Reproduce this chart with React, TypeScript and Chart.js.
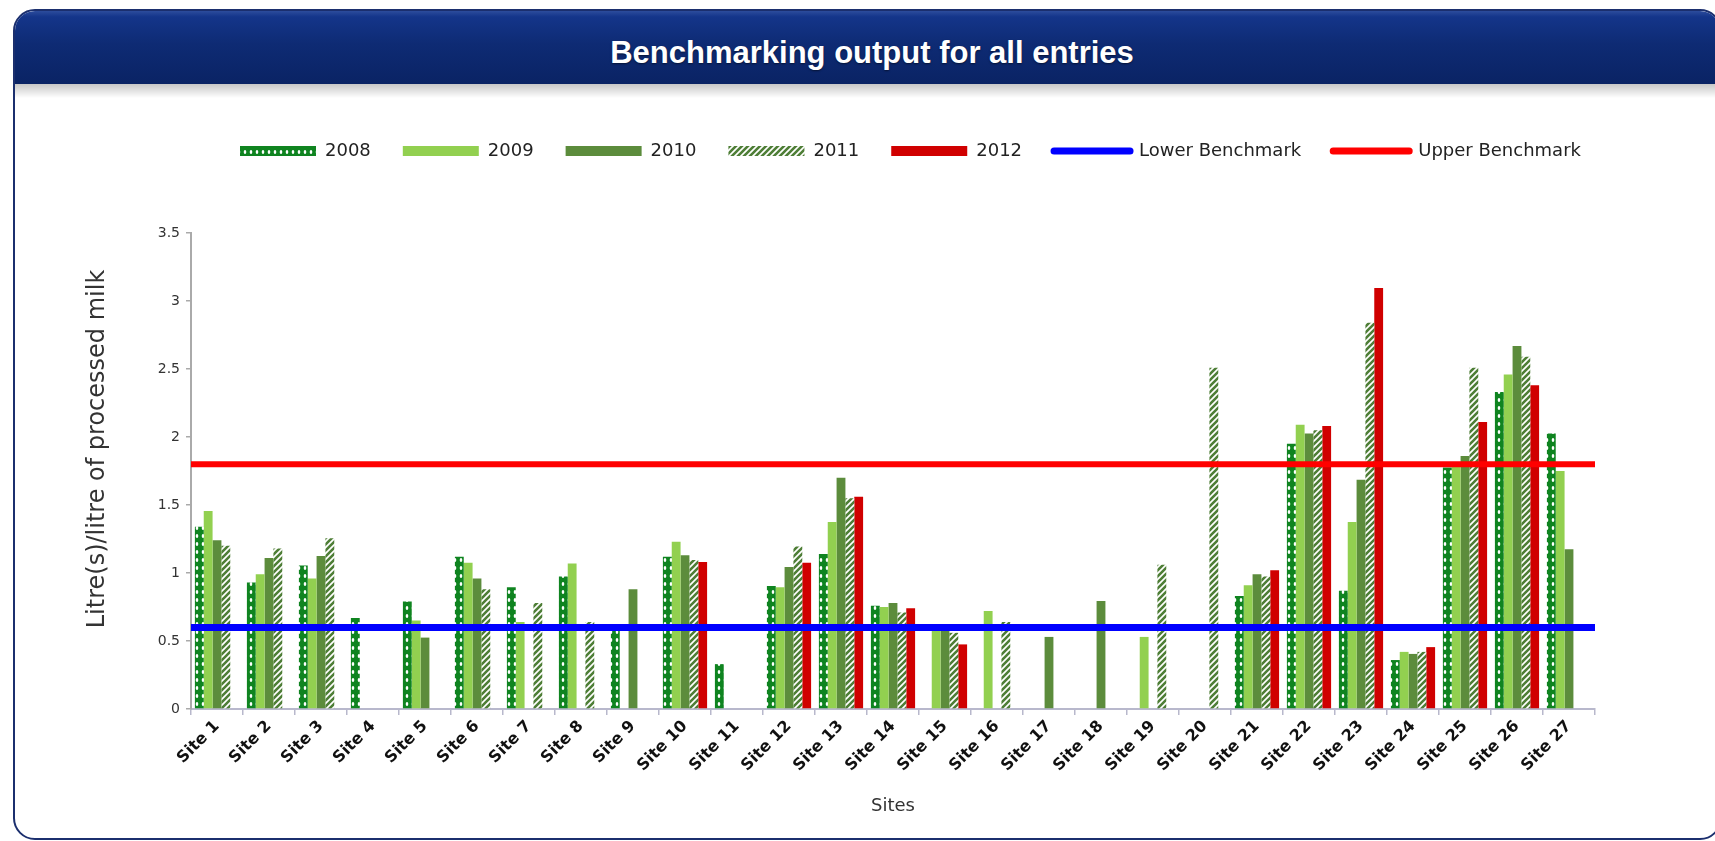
import React, { useEffect, useRef } from 'react';
import { Chart, registerables } from 'chart.js';

Chart.register(...registerables);

// ---------- data ----------
const SITES = [
  'Site 1', 'Site 2', 'Site 3', 'Site 4', 'Site 5', 'Site 6', 'Site 7', 'Site 8', 'Site 9',
  'Site 10', 'Site 11', 'Site 12', 'Site 13', 'Site 14', 'Site 15', 'Site 16', 'Site 17', 'Site 18',
  'Site 19', 'Site 20', 'Site 21', 'Site 22', 'Site 23', 'Site 24', 'Site 25', 'Site 26', 'Site 27',
];

const Y2008 = [1.34, 0.93, 1.055, 0.67, 0.79, 1.12, 0.895, 0.975, 0.59, 1.12, 0.33, 0.905, 1.14, 0.76, null, null, null, null, null, null, 0.83, 1.95, 0.87, 0.36, 1.775, 2.33, 2.025];
const Y2009 = [1.455, 0.99, 0.96, null, 0.65, 1.075, 0.64, 1.07, null, 1.23, null, 0.895, 1.375, 0.75, 0.575, 0.72, null, null, 0.53, null, 0.91, 2.09, 1.375, 0.42, 1.78, 2.46, 1.75];
const Y2010 = [1.24, 1.11, 1.125, null, 0.525, 0.96, null, null, 0.88, 1.13, null, 1.045, 1.7, 0.78, 0.575, null, 0.53, 0.795, null, null, 0.99, 2.025, 1.685, 0.405, 1.86, 2.67, 1.175];
const Y2011 = [1.2, 1.18, 1.255, null, null, 0.88, 0.78, 0.64, null, 1.095, null, 1.195, 1.55, 0.71, 0.56, 0.64, null, null, 1.06, 2.51, 0.975, 2.05, 2.84, 0.42, 2.51, 2.59, null];
const Y2012 = [null, null, null, null, null, null, null, null, null, 1.08, null, 1.075, 1.56, 0.74, 0.475, null, null, null, null, null, 1.02, 2.08, 3.095, 0.455, 2.11, 2.38, null];

const LOWER_BENCHMARK = 0.6;
const UPPER_BENCHMARK = 1.8;

const SERIES_LABELS = ['2008', '2009', '2010', '2011', '2012', 'Lower Benchmark', 'Upper Benchmark'];
const TITLE = 'Benchmarking output for all entries';
const Y_TITLE = 'Litre(s)/litre of processed milk';
const X_TITLE = 'Sites';

// ---------- layout constants (page px) ----------
const CANVAS_LEFT = 20;
const CANVAS_TOP = 100;
const CANVAS_W = 1690;
const CANVAS_H = 724;
const LEGEND_FIRST_X = 240;
const LEGEND_TOP = 110;
const LEGEND_PAD = 32;
const Y_TITLE_X = 98;
const Y_TITLE_Y = 449;

function dotPattern(): CanvasPattern | string {
  const c = document.createElement('canvas');
  c.width = 6;
  c.height = 8;
  const x = c.getContext('2d');
  if (!x) return '#0f8420';
  x.fillStyle = '#0f8420';
  x.fillRect(0, 0, 6, 8);
  x.fillStyle = '#ffffff';
  x.beginPath();
  x.ellipse(3, 4, 1.3, 1.9, 0, 0, Math.PI * 2);
  x.fill();
  return x.createPattern(c, 'repeat') || '#0f8420';
}

function hatchPattern(): CanvasPattern | string {
  const s = 6;
  const c = document.createElement('canvas');
  c.width = s;
  c.height = s;
  const x = c.getContext('2d');
  if (!x) return '#4e7e36';
  x.fillStyle = '#ffffff';
  x.fillRect(0, 0, s, s);
  x.strokeStyle = '#4e7e36';
  x.lineWidth = 2.6;
  x.beginPath();
  x.moveTo(-1, s + 1);
  x.lineTo(s + 1, -1);
  x.moveTo(-1, 1);
  x.lineTo(1, -1);
  x.moveTo(s - 1, s + 1);
  x.lineTo(s + 1, s - 1);
  x.stroke();
  return x.createPattern(c, 'repeat') || '#4e7e36';
}

const legendPlace = {
  id: 'legendPlace',
  beforeDraw(chart: any) {
    const lg = chart.legend;
    if (!lg) return;
    const w = lg.width;
    const h = lg.height;
    lg.left = LEGEND_FIRST_X - CANVAS_LEFT - LEGEND_PAD;
    lg.right = lg.left + w;
    lg.top = LEGEND_TOP - CANVAS_TOP;
    lg.bottom = lg.top + h;
  },
};

const yTitlePlugin = {
  id: 'yTitlePlugin',
  afterDraw(chart: any) {
    const ctx = chart.ctx;
    ctx.save();
    ctx.translate(Y_TITLE_X - CANVAS_LEFT, Y_TITLE_Y - CANVAS_TOP);
    ctx.rotate(-Math.PI / 2);
    ctx.textAlign = 'center';
    ctx.textBaseline = 'middle';
    ctx.fillStyle = '#333333';
    ctx.font = '24px "DejaVu Sans"';
    ctx.fillText(Y_TITLE, 0, 0);
    ctx.restore();
  },
};

function BenchChart() {
  const ref = useRef<HTMLCanvasElement | null>(null);

  useEffect(() => {
    if (!ref.current) return;
    const dots = dotPattern();
    const hatch = hatchPattern();
    const barCommon = { borderWidth: 0, categoryPercentage: 0.85, barPercentage: 1.0 };
    // benchmark lines span the whole category axis (from its left edge to its right edge)
    const xStart = -0.5;
    const xEnd = SITES.length - 0.5;
    const lineCommon = {
      type: 'line' as const,
      parsing: false,
      pointRadius: 0,
      fill: false,
      order: -1,
      borderCapStyle: 'butt' as const,
    };
    const tickFont = { family: 'DejaVu Sans', size: 16, weight: 'bold' as const };

    const chart = new Chart(ref.current, {
      type: 'bar',
      data: {
        labels: SITES,
        datasets: [
          { ...barCommon, label: SERIES_LABELS[0], data: Y2008, backgroundColor: dots },
          { ...barCommon, label: SERIES_LABELS[1], data: Y2009, backgroundColor: '#92d050' },
          { ...barCommon, label: SERIES_LABELS[2], data: Y2010, backgroundColor: '#5c8c3c' },
          { ...barCommon, label: SERIES_LABELS[3], data: Y2011, backgroundColor: hatch },
          { ...barCommon, label: SERIES_LABELS[4], data: Y2012, backgroundColor: '#d00000' },
          {
            ...lineCommon,
            label: SERIES_LABELS[5],
            data: [{ x: xStart, y: LOWER_BENCHMARK }, { x: xEnd, y: LOWER_BENCHMARK }],
            borderColor: '#0000ff',
            backgroundColor: '#0000ff',
            borderWidth: 7,
          },
          {
            ...lineCommon,
            label: SERIES_LABELS[6],
            data: [{ x: xStart, y: UPPER_BENCHMARK }, { x: xEnd, y: UPPER_BENCHMARK }],
            borderColor: '#ff0000',
            backgroundColor: '#ff0000',
            borderWidth: 6,
          },
        ] as any,
      },
      options: {
        animation: false,
        responsive: false,
        maintainAspectRatio: false,
        events: [],
        layout: { padding: { left: 60, right: 115, top: 73, bottom: 5 } },
        plugins: {
          tooltip: { enabled: false },
          title: { display: false },
          legend: {
            display: true,
            position: 'top',
            align: 'start',
            labels: {
              usePointStyle: true,
              pointStyleWidth: 76,
              boxWidth: 76,
              boxHeight: 10,
              padding: LEGEND_PAD,
              color: '#222222',
              font: { family: 'DejaVu Sans', size: 18 },
              sort: (a: any, b: any) => a.datasetIndex - b.datasetIndex,
              generateLabels: (ch: any) => {
                const base = (Chart.defaults.plugins.legend.labels as any).generateLabels(ch);
                return base.map((it: any) => {
                  const ds: any = ch.data.datasets[it.datasetIndex];
                  const isLine = ds.type === 'line';
                  return {
                    ...it,
                    pointStyle: isLine ? 'line' : 'rect',
                    lineWidth: isLine ? 7 : 0,
                    lineCap: 'round',
                    strokeStyle: isLine ? ds.borderColor : 'rgba(0,0,0,0)',
                    fillStyle: ds.backgroundColor,
                  };
                });
              },
            },
          },
        },
        scales: {
          x: {
            type: 'category',
            offset: true,
            grid: { display: true, drawOnChartArea: false, offset: true, tickLength: 6, color: '#b8b8cc', lineWidth: 1.5 },
            border: { display: true, color: '#b8b8cc', width: 2 },
            ticks: { autoSkip: false, minRotation: 45, maxRotation: 45, padding: 2, color: '#111111', font: tickFont },
            title: { display: true, text: X_TITLE, color: '#333333', font: { family: 'DejaVu Sans', size: 18 }, padding: { top: 0, bottom: 2 } },
            afterFit: (s: any) => {
              s.height = 110;
            },
          },
          y: {
            type: 'linear',
            min: 0,
            max: 3.5,
            grid: { display: true, drawOnChartArea: false, tickLength: 5, color: '#aaaaaa', lineWidth: 1.5 },
            border: { display: true, color: '#aaaaaa', width: 2 },
            ticks: {
              stepSize: 0.5,
              padding: 6,
              color: '#333333',
              font: { family: 'DejaVu Sans', size: 14 },
              callback: (v: any) => String(Number(v)),
            },
            title: { display: false, text: Y_TITLE },
            afterFit: (s: any) => {
              s.width = 111;
            },
          },
        },
      } as any,
      plugins: [legendPlace, yTitlePlugin],
    });
    return () => chart.destroy();
  }, []);

  return (
    <canvas
      ref={ref}
      width={CANVAS_W}
      height={CANVAS_H}
      style={{ position: 'absolute', left: CANVAS_LEFT, top: CANVAS_TOP, width: CANVAS_W, height: CANVAS_H }}
    />
  );
}

export default function App() {
  return (
    <div style={{ position: 'fixed', left: 0, top: 0, width: 1715, height: 841, background: '#ffffff', overflow: 'hidden' }}>
      <div
        style={{
          position: 'absolute',
          left: 13,
          top: 9,
          width: 1705,
          height: 827,
          border: '2px solid #1b2f6e',
          borderRadius: 22,
          overflow: 'hidden',
          background: '#ffffff',
        }}
      >
        <div
          style={{
            position: 'absolute',
            left: 0,
            top: 0,
            right: 0,
            height: 73,
            background: 'linear-gradient(#2c4c9c 0%, #14358a 8%, #0e2b74 45%, #0a2364 100%)',
            color: '#ffffff',
            fontFamily: '"Liberation Sans", Arial, sans-serif',
            fontWeight: 'bold',
            fontSize: 31,
            lineHeight: '73px',
            textAlign: 'center',
            paddingLeft: 9,
            boxSizing: 'border-box',
            textShadow: '0 1px 2px rgba(0,0,0,0.5)',
          }}
        >
          <div style={{ position: 'relative', top: 5 }}>{TITLE}</div>
        </div>
        <div
          style={{
            position: 'absolute',
            left: 0,
            right: 0,
            top: 73,
            height: 14,
            background: 'linear-gradient(rgba(0,0,0,0.22), rgba(0,0,0,0))',
          }}
        />
      </div>
      <BenchChart />
    </div>
  );
}
